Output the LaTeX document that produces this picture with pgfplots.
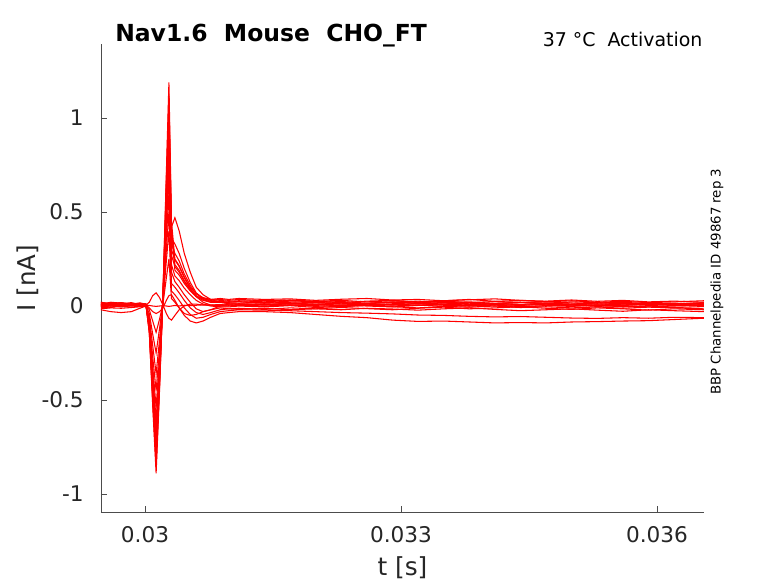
\documentclass[border=0pt]{standalone}
\usepackage{fontspec}
\setmainfont{DejaVu Sans}
\usepackage{pgfplots}
\pgfplotsset{compat=1.18}
\usepackage{pgfplotstable}
\pgfplotstableread{
t a b c d e f g h i j k l m n o p
0.02948 0.010 0.020 0.005 0.015 -0.005 0.010 0.000 0.020 -0.010 0.005 -0.015 0.000 -0.020 0.010 0.000 0.008
0.02960 0.015 0.010 0.012 0.005 0.000 0.020 -0.008 0.012 -0.005 0.010 -0.010 0.005 -0.030 0.000 0.008 0.005
0.02972 0.008 0.018 0.000 0.012 0.006 0.015 0.004 0.018 0.000 0.002 -0.012 -0.005 -0.035 0.008 0.012 0.000
0.02984 0.012 0.008 0.010 0.018 0.002 0.008 0.000 0.010 -0.006 0.012 -0.008 0.003 -0.030 0.005 0.004 0.006
0.02994 0.006 0.014 0.016 0.008 0.010 0.012 0.006 0.015 0.000 0.005 -0.004 0.000 -0.012 0.010 0.000 0.004
0.03001 0.010 0.010 0.010 0.010 0.008 0.010 0.006 0.010 0.004 0.006 0.000 0.004 0.000 0.006 0.004 0.005
0.03005 -0.14 -0.14 -0.13 -0.12 -0.12 -0.11 -0.10 -0.10 -0.09 -0.07 -0.06 -0.04 -0.02 -0.01 0.02 0.003
0.03009 -0.53 -0.51 -0.49 -0.46 -0.44 -0.41 -0.38 -0.36 -0.32 -0.27 -0.21 -0.15 -0.08 -0.03 0.055 0.000
0.03013 -0.89 -0.86 -0.83 -0.78 -0.74 -0.70 -0.65 -0.61 -0.54 -0.45 -0.36 -0.25 -0.14 -0.04 0.07 -0.002
0.03017 -0.45 -0.43 -0.42 -0.39 -0.37 -0.35 -0.33 -0.31 -0.27 -0.23 -0.18 -0.12 -0.07 -0.03 0.045 0.000
0.03021 0.06 0.06 0.05 0.05 0.05 0.045 0.04 0.04 0.035 0.03 0.025 0.02 0.01 -0.01 0.005 0.002
0.03025 0.71 0.68 0.64 0.60 0.57 0.54 0.50 0.47 0.42 0.36 0.30 0.24 0.15 0.03 -0.04 0.000
0.03028 1.19 1.13 1.07 1.00 0.95 0.90 0.84 0.78 0.70 0.60 0.50 0.40 0.25 0.055 -0.065 -0.002
0.03031 0.45 0.42 0.40 0.42 0.36 0.33 0.30 0.27 0.22 0.18 0.12 0.08 0.04 0.06 -0.075 0.000
0.03035 0.25 0.22 0.19 0.47 0.33 0.28 0.245 0.21 0.16 0.13 0.10 0.06 0.02 0.03 -0.05 0.003
0.03040 0.215 0.19 0.165 0.40 0.28 0.24 0.21 0.18 0.135 0.10 0.07 0.03 -0.01 -0.01 -0.02 0.000
0.03046 0.155 0.135 0.12 0.28 0.20 0.17 0.15 0.13 0.095 0.06 0.03 -0.01 -0.05 -0.04 0.000 0.004
0.03053 0.10 0.09 0.08 0.18 0.125 0.11 0.095 0.085 0.06 0.02 -0.01 -0.045 -0.08 -0.05 0.01 0.002
0.03060 0.065 0.055 0.05 0.10 0.07 0.065 0.05 0.05 0.03 -0.015 -0.035 -0.065 -0.09 -0.045 0.01 0.004
0.03068 0.04 0.035 0.04 0.06 0.04 0.045 0.02 0.03 0.01 -0.03 -0.045 -0.06 -0.08 -0.03 0.005 0.006
0.03077 0.03 0.02 0.035 0.035 0.025 0.035 0.005 0.02 0.00 -0.02 -0.035 -0.045 -0.06 -0.02 0.005 0.005
0.03088 0.035 0.025 0.04 0.02 0.02 0.03 0.00 0.02 -0.005 0.00 -0.02 -0.03 -0.04 -0.01 0.008 0.003
0.03098 0.03 0.02 0.035 0.015 0.012 0.025 0.00 0.02 -0.005 0.01 -0.015 -0.025 -0.035 -0.015 0.004 0.006
0.0311 0.035 0.025 0.040 0.015 0.010 0.028 0.005 0.022 0.000 0.012 -0.012 -0.020 -0.030 -0.018 0.008 0.004
0.0314 0.028 0.030 0.035 0.020 0.005 0.022 0.000 0.015 -0.005 0.008 -0.018 -0.022 -0.030 -0.012 0.012 -0.002
0.0317 0.032 0.022 0.038 0.012 0.012 0.030 0.006 0.020 0.002 0.015 -0.010 -0.025 -0.035 -0.020 0.004 0.006
0.0320 0.025 0.018 0.030 0.018 0.008 0.024 -0.002 0.026 -0.008 0.010 -0.015 -0.030 -0.045 -0.015 0.010 0.002
0.0323 0.030 0.024 0.036 0.010 0.002 0.018 0.004 0.018 -0.003 0.005 -0.020 -0.035 -0.055 -0.008 0.015 -0.004
0.0326 0.022 0.015 0.040 0.015 0.010 0.026 0.000 0.012 0.004 0.012 -0.012 -0.038 -0.062 -0.014 0.006 0.004
0.0329 0.028 0.020 0.032 0.022 0.005 0.030 -0.005 0.020 -0.004 0.008 -0.016 -0.042 -0.075 -0.020 0.012 0.000
0.0332 0.020 0.026 0.035 0.012 0.012 0.022 0.003 0.016 -0.010 0.004 -0.022 -0.048 -0.082 -0.012 0.018 0.006
0.0335 0.026 0.018 0.028 0.016 0.004 0.028 0.008 0.024 -0.002 0.010 -0.015 -0.050 -0.080 -0.006 0.010 -0.002
0.0338 0.018 0.022 0.033 0.008 0.000 0.035 0.000 0.018 -0.006 0.015 -0.010 -0.055 -0.085 -0.015 0.005 0.003
0.0341 0.024 0.014 0.038 0.014 0.008 0.025 0.005 0.012 0.000 0.008 -0.018 -0.058 -0.090 -0.010 0.012 0.000
0.0344 0.020 0.018 0.030 0.020 0.003 0.030 -0.003 0.018 -0.008 0.004 -0.025 -0.056 -0.088 -0.004 0.008 -0.006
0.0347 0.015 0.024 0.026 0.010 0.010 0.022 0.002 0.015 -0.004 0.010 -0.020 -0.060 -0.090 -0.012 0.015 0.002
0.0350 0.022 0.016 0.032 0.006 0.000 0.028 0.006 0.010 -0.010 0.005 -0.015 -0.064 -0.085 -0.018 0.010 -0.002
0.0353 0.018 0.010 0.025 0.012 0.006 0.020 -0.002 0.016 -0.005 0.000 -0.022 -0.066 -0.083 -0.010 0.004 0.004
0.0356 0.012 0.014 0.030 0.004 -0.004 0.025 0.003 0.020 -0.012 0.006 -0.028 -0.062 -0.080 -0.015 0.010 -0.004
0.0359 0.016 0.008 0.022 0.010 0.002 0.018 -0.005 0.012 -0.006 0.010 -0.020 -0.065 -0.078 -0.022 0.015 0.000
0.0362 0.010 0.012 0.026 0.015 0.008 0.022 0.000 0.006 -0.010 0.002 -0.025 -0.060 -0.072 -0.015 0.008 -0.008
0.03655 0.015 0.018 0.020 0.008 0.000 0.028 0.004 0.012 -0.015 0.006 -0.030 -0.062 -0.065 -0.020 0.012 -0.003
}\traces
\begin{document}
\begin{tikzpicture}
\path[use as bounding box] (-75.75pt,-53.25pt) rectangle (507.75pt,384pt);
\begin{axis}[
  at={(0pt,0pt)}, anchor=south west,
  scale only axis, width=452.25pt, height=351pt,
  xmin=0.029484, xmax=0.036551, ymin=-1.096, ymax=1.394,
  axis lines=left,
  axis line style={-, black!70, line width=0.6pt},
  tick align=inside, major tick length=4.5pt,
  tick style={black!70, line width=0.6pt},
  xtick={0.03,0.033,0.036}, xticklabels={0.03,0.033,0.036},
  ytick={-1,-0.5,0,0.5,1}, yticklabels={-1,-0.5,0,0.5,1},
  scaled x ticks=false, scaled y ticks=false,
  ticklabel style={font=\fontsize{16.2}{16.2}\selectfont, text=black!85},
  xticklabel style={anchor=north, inner sep=0pt, yshift=-10.5pt},
  yticklabel style={anchor=east, inner sep=0pt, xshift=-12.75pt},
  clip mode=individual,
]
\addplot[red, line width=0.8pt] table[x=t,y=a] {\traces};
\addplot[red, line width=0.8pt] table[x=t,y=b] {\traces};
\addplot[red, line width=0.8pt] table[x=t,y=c] {\traces};
\addplot[red, line width=0.8pt] table[x=t,y=d] {\traces};
\addplot[red, line width=0.8pt] table[x=t,y=e] {\traces};
\addplot[red, line width=0.8pt] table[x=t,y=f] {\traces};
\addplot[red, line width=0.8pt] table[x=t,y=g] {\traces};
\addplot[red, line width=0.8pt] table[x=t,y=h] {\traces};
\addplot[red, line width=0.8pt] table[x=t,y=i] {\traces};
\addplot[red, line width=0.8pt] table[x=t,y=j] {\traces};
\addplot[red, line width=0.8pt] table[x=t,y=k] {\traces};
\addplot[red, line width=0.8pt] table[x=t,y=l] {\traces};
\addplot[red, line width=0.8pt] table[x=t,y=m] {\traces};
\addplot[red, line width=0.8pt] table[x=t,y=n] {\traces};
\addplot[red, line width=0.8pt] table[x=t,y=o] {\traces};
\addplot[red, line width=0.8pt] table[x=t,y=p] {\traces};
\end{axis}
\fill[white] (452.8pt,-6pt) rectangle (475pt,86pt);
\node[anchor=base west, inner sep=0pt, font=\bfseries\fontsize{17.6}{18}\selectfont] at (10.5pt,352.7pt) {Nav1.6\ \ Mouse\ \ CHO\_FT};
\node[anchor=base east, inner sep=0pt, font=\fontsize{14.2}{15}\selectfont] at (451.25pt,349pt) {37 °C\ \ Activation};
\node[inner sep=0pt, font=\fontsize{10}{10}\selectfont] at (462pt,172.7pt) {\rotatebox{90}{BBP Channelpedia ID 49867 rep 3}};
\node[inner sep=0pt, font=\fontsize{18.4}{18.4}\selectfont, text=black!85] at (-54.75pt,175.5pt) {\rotatebox{90}{I [nA]}};
\node[inner sep=0pt, font=\fontsize{18.6}{18.6}\selectfont, text=black!85] at (226.1pt,-41.6pt) {t [s]};
\end{tikzpicture}
\end{document}
